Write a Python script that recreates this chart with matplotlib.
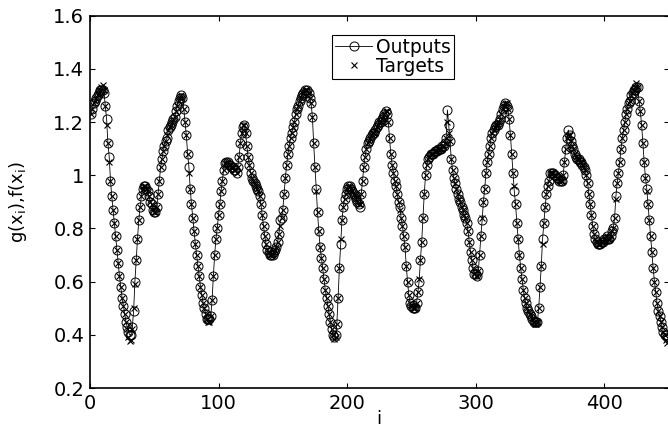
import matplotlib
matplotlib.use("Agg")
import matplotlib.pyplot as plt
import numpy as np

plt.rcParams.update({"font.size": 14, "font.family": "DejaVu Sans",
                     "mathtext.default": "regular"})

# targets f(x_i), i = 1..449 (rows of ten)
targets = [
    1.23, 1.25, 1.27, 1.28, 1.29, 1.30, 1.31, 1.32, 1.33, 1.34,
    1.32, 1.26, 1.19, 1.12, 1.05, 0.98, 0.92, 0.87, 0.82, 0.77,
    0.72, 0.67, 0.62, 0.58, 0.54, 0.51, 0.48, 0.45, 0.42, 0.39,
    0.375, 0.38, 0.42, 0.50, 0.59, 0.68, 0.76, 0.83, 0.88, 0.92,
    0.95, 0.96, 0.96, 0.95, 0.94, 0.92, 0.90, 0.89, 0.87, 0.86,
    0.86, 0.88, 0.93, 0.98, 1.03, 1.06, 1.09, 1.11, 1.13, 1.15,
    1.17, 1.18, 1.19, 1.20, 1.21, 1.22, 1.24, 1.26, 1.28, 1.29,
    1.30, 1.29, 1.25, 1.20, 1.15, 1.08, 1.01, 0.95, 0.89, 0.84,
    0.79, 0.74, 0.70, 0.66, 0.62, 0.58, 0.55, 0.52, 0.50, 0.48,
    0.46, 0.45, 0.45, 0.47, 0.53, 0.62, 0.70, 0.76, 0.80, 0.85,
    0.89, 0.94, 0.98, 1.02, 1.045, 1.05, 1.05, 1.04, 1.04, 1.03,
    1.03, 1.02, 1.02, 1.01, 1.03, 1.07, 1.12, 1.16, 1.19, 1.19,
    1.16, 1.11, 1.07, 1.04, 1.01, 0.99, 0.98, 0.97, 0.96, 0.95,
    0.94, 0.92, 0.89, 0.85, 0.81, 0.77, 0.74, 0.72, 0.71, 0.70,
    0.70, 0.70, 0.71, 0.72, 0.73, 0.75, 0.78, 0.81, 0.84, 0.87,
    0.93, 0.99, 1.04, 1.08, 1.11, 1.14, 1.16, 1.18, 1.20, 1.23,
    1.25, 1.26, 1.28, 1.29, 1.30, 1.31, 1.32, 1.32, 1.32, 1.31,
    1.29, 1.27, 1.22, 1.12, 1.03, 0.94, 0.86, 0.79, 0.73, 0.69,
    0.65, 0.61, 0.57, 0.54, 0.51, 0.48, 0.45, 0.42, 0.40, 0.385,
    0.39, 0.44, 0.54, 0.65, 0.76, 0.83, 0.88, 0.91, 0.93, 0.95,
    0.96, 0.96, 0.95, 0.94, 0.93, 0.92, 0.91, 0.90, 0.89, 0.89,
    0.93, 0.98, 1.03, 1.07, 1.10, 1.12, 1.13, 1.14, 1.15, 1.16,
    1.16, 1.17, 1.18, 1.19, 1.20, 1.20, 1.21, 1.22, 1.23, 1.24,
    1.24, 1.20, 1.14, 1.08, 1.04, 1.01, 0.98, 0.96, 0.93, 0.90,
    0.87, 0.84, 0.81, 0.77, 0.73, 0.66, 0.60, 0.55, 0.52, 0.51,
    0.50, 0.50, 0.50, 0.52, 0.56, 0.61, 0.68, 0.75, 0.84, 0.93,
    1.00, 1.04, 1.06, 1.07, 1.08, 1.08, 1.08, 1.09, 1.09, 1.09,
    1.10, 1.10, 1.10, 1.11, 1.11, 1.12, 1.14, 1.20, 1.16, 1.13,
    1.06, 1.02, 0.99, 0.97, 0.95, 0.93, 0.91, 0.90, 0.88, 0.87,
    0.85, 0.84, 0.82, 0.79, 0.75, 0.71, 0.68, 0.65, 0.63, 0.62,
    0.62, 0.64, 0.70, 0.77, 0.84, 0.90, 0.95, 1.01, 1.05, 1.08,
    1.11, 1.14, 1.16, 1.17, 1.18, 1.19, 1.19, 1.20, 1.21, 1.23,
    1.25, 1.26, 1.27, 1.27, 1.25, 1.21, 1.15, 1.08, 1.01, 0.96,
    0.89, 0.82, 0.76, 0.70, 0.65, 0.61, 0.57, 0.54, 0.52, 0.50,
    0.49, 0.48, 0.47, 0.46, 0.45, 0.44, 0.44, 0.45, 0.50, 0.58,
    0.66, 0.74, 0.82, 0.88, 0.93, 0.96, 0.98, 1.01, 1.01, 1.01,
    1.00, 1.00, 0.99, 0.99, 0.98, 0.98, 0.98, 1.00, 1.05, 1.10,
    1.14, 1.15, 1.15, 1.13, 1.11, 1.10, 1.08, 1.07, 1.06, 1.06,
    1.05, 1.05, 1.04, 1.03, 1.02, 1.00, 0.97, 0.93, 0.89, 0.85,
    0.81, 0.78, 0.76, 0.75, 0.74, 0.74, 0.74, 0.75, 0.75, 0.76,
    0.76, 0.77, 0.76, 0.76, 0.77, 0.79, 0.80, 0.84, 0.91, 0.97,
    1.01, 1.05, 1.10, 1.14, 1.17, 1.20, 1.23, 1.25, 1.27, 1.28,
    1.30, 1.31, 1.32, 1.33, 1.345, 1.33, 1.28, 1.24, 1.19, 1.12,
    1.05, 0.99, 0.94, 0.89, 0.83, 0.77, 0.71, 0.65, 0.60, 0.56,
    0.52, 0.49, 0.47, 0.45, 0.43, 0.41, 0.40, 0.38, 0.37,
]

# network outputs g(x_i): same as targets except where the circles visibly differ
output_diffs = {
    9: 1.32, 10: 1.32, 11: 1.31, 13: 1.21, 15: 1.07, 29: 0.43, 30: 0.41,
    31: 0.40, 32: 0.40, 33: 0.43, 34: 0.49, 35: 0.60, 60: 1.14, 77: 1.03,
    92: 0.46, 93: 0.46, 119: 1.18, 148: 0.83, 168: 1.31, 176: 0.95,
    189: 0.40, 190: 0.39, 191: 0.40, 195: 0.74, 210: 0.88, 231: 1.23,
    241: 0.88, 256: 0.60, 278: 1.245, 279: 1.19, 300: 0.63, 305: 0.83,
    324: 1.26, 330: 0.94, 346: 0.45, 347: 0.45, 352: 0.76, 372: 1.17,
    373: 1.15, 409: 0.92, 424: 1.32, 425: 1.33, 433: 0.95, 447: 0.40,
    448: 0.40, 449: 0.39,
}
outputs = list(targets)
for k, v in output_diffs.items():
    outputs[k - 1] = v

i = np.arange(1, len(targets) + 1)

fig = plt.figure(figsize=(6.68, 4.29), dpi=100)
ax = fig.add_axes([89.9 / 668, 1 - 388 / 429, 578.7 / 668, 372.4 / 429])

ax.plot(i, outputs, "-o", color="k", linewidth=0.6, markersize=6.5,
        markerfacecolor="none", markeredgewidth=0.7, label="Outputs")
ax.plot(i, targets, "x", color="k", markersize=4.5, markeredgewidth=0.8,
        label="Targets")

ax.set_xlim(0, 450)
ax.set_ylim(0.2, 1.6)
ax.set_xticks([0, 100, 200, 300, 400])
ax.set_yticks([0.2, 0.4, 0.6, 0.8, 1.0, 1.2, 1.4, 1.6],
              ["0.2", "0.4", "0.6", "0.8", "1", "1.2", "1.4", "1.6"])
ax.tick_params(direction="in", length=3.6, width=0.8, top=True, right=True,
               pad=4)
for s in ax.spines.values():
    s.set_linewidth(1.2)

ax.set_xlabel("i", fontsize=13)
ax.set_ylabel("g(x$_i$),f(x$_i$)", fontsize=13)
ax.xaxis.set_label_coords(0.5, -0.06)
ax.yaxis.set_label_coords(-0.105, 0.5)

leg = ax.legend(loc="upper left", bbox_to_anchor=(332 / 668, 1 - 35 / 429),
                bbox_transform=fig.transFigure, fancybox=False,
                edgecolor="k", framealpha=1, borderaxespad=0,
                handlelength=2.0, handletextpad=0.2, borderpad=0.15,
                labelspacing=0.0, numpoints=1, fontsize=13.5)
leg.get_frame().set_linewidth(0.8)

fig.savefig("out.png", dpi=100)
